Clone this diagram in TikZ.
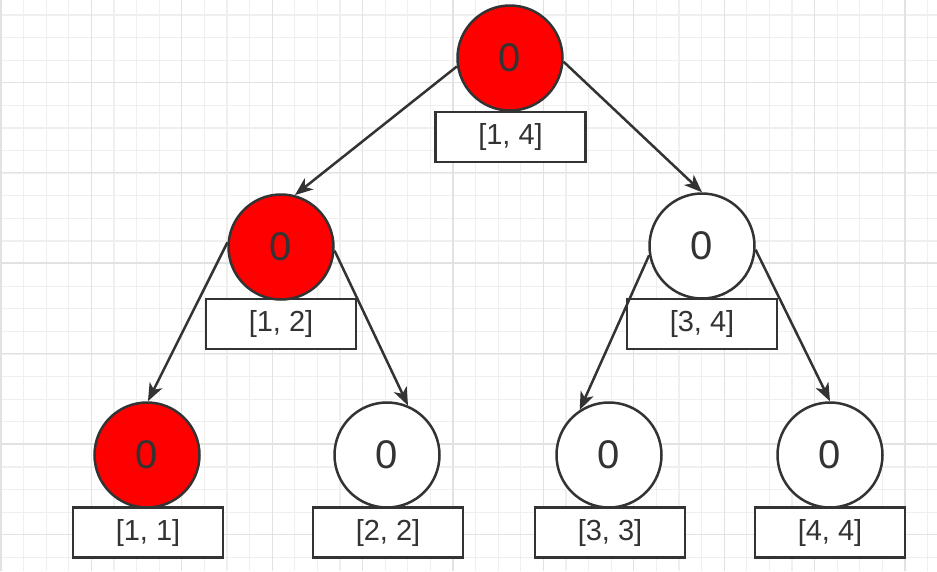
\documentclass[tikz,border=0pt]{standalone}
\usepackage{fontspec}
\setmainfont{Liberation Sans}
\usetikzlibrary{arrows.meta}
\definecolor{ink}{HTML}{333333}
\definecolor{gminor}{HTML}{EFEFEF}
\definecolor{gmajor}{HTML}{E2E2E2}
\tikzset{
  nodecirc/.style={circle, draw=ink, line width=2.5pt, minimum size=105pt, inner sep=0pt,
    font=\fontsize{40}{44}\selectfont, text=ink},
  redcirc/.style={nodecirc, fill=red},
  whitecirc/.style={nodecirc, fill=white},
  rangebox/.style={rectangle, draw=ink, line width=2.5pt, fill=white, minimum width=150pt,
    minimum height=50pt, inner sep=0pt, font=\fontsize{29}{32}\selectfont, text=ink},
  edge/.style={draw=ink, line width=2.5pt, -{Stealth[length=18pt, width=14pt, inset=5pt]}}
}
\begin{document}
\begin{tikzpicture}[x=1pt, y=-1pt]
\useasboundingbox (0,0) rectangle (937,571);
\fill[white] (0,0) rectangle (937,571);
% grid
\foreach \i in {0,...,41} {
  \draw[gminor, line width=1.3pt] ({1+22.6*\i},0) -- ({1+22.6*\i},571);
}
\foreach \j in {0,...,25} {
  \draw[gminor, line width=1.3pt] (0,{15+22.6*\j}) -- (937,{15+22.6*\j});
}
\foreach \i in {0,...,10} {
  \draw[gmajor, line width=1.3pt] ({1+90.4*\i},0) -- ({1+90.4*\i},571);
}
\foreach \j in {0,...,6} {
  \draw[gmajor, line width=1.3pt] (0,{-8.1+90.4*\j}) -- (937,{-8.1+90.4*\j});
}
% label boxes
\node[rangebox] (b14) at (510.5,137) {[1, 4]};
\node[rangebox] (b12) at (281,324) {[1, 2]};
\node[rangebox] (b34) at (702,324) {[3, 4]};
\node[rangebox] (b11) at (148,532.5) {[1, 1]};
\node[rangebox] (b22) at (388,532.5) {[2, 2]};
\node[rangebox] (b33) at (610,532.5) {[3, 3]};
\node[rangebox] (b44) at (830,532.5) {[4, 4]};
% circles
\node[redcirc] (n14) at (510,58) {0};
\node[redcirc] (n12) at (281,247) {0};
\node[whitecirc] (n34) at (702,246) {0};
\node[redcirc] (n11) at (147,455) {0};
\node[whitecirc] (n22) at (387,455) {0};
\node[whitecirc] (n33) at (609,455) {0};
\node[whitecirc] (n44) at (830,455) {0};
% edges
\draw[edge] (n14.189) -- (n12.75);
\draw[edge] (n14.-4) -- (n34.90);
\draw[edge] (n12.175) -- (n11.89);
\draw[edge] (n12.-4) -- (n22.67);
\draw[edge] (n34.190) -- (n33.123);
\draw[edge] (n34.-4) -- (n44.90);
\end{tikzpicture}
\end{document}
